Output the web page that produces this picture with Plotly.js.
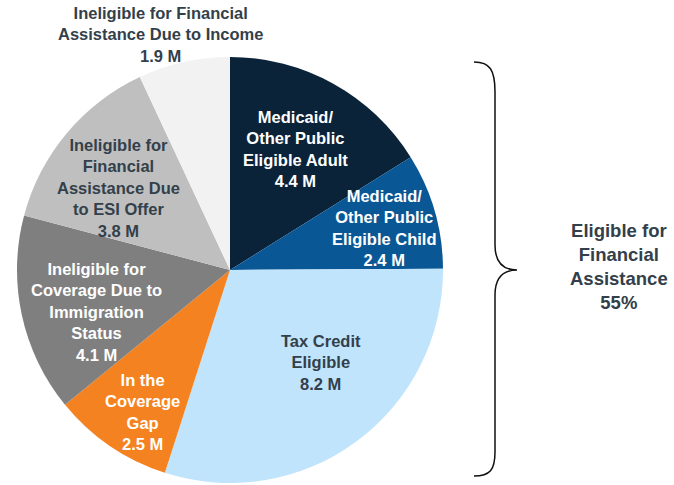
<!DOCTYPE html>
<html>
<head>
<meta charset="utf-8">
<script src="https://cdn.plot.ly/plotly-3.0.1.min.js"></script>
<style>
  body { margin: 0; background: #fff; }
  #chart { width: 674px; height: 485px; }
</style>
</head>
<body>
<div id="chart"></div>
<script>
// slices, clockwise from 12 o'clock
let groups = ["Medicaid/ Other Public Eligible Adult", "Medicaid/ Other Public Eligible Child",
              "Tax Credit Eligible", "In the Coverage Gap",
              "Ineligible for Coverage Due to Immigration Status",
              "Ineligible for Financial Assistance Due to ESI Offer",
              "Ineligible for Financial Assistance Due to Income"];

// people, millions
let millions = [4.4, 2.4, 8.2, 2.5, 4.1, 3.8, 1.9];

// label text as printed on the slices
let labels = ["Medicaid/<br>Other Public<br>Eligible Adult",
              "Medicaid/<br>Other Public<br>Eligible Child",
              "Tax Credit<br>Eligible",
              "In the<br>Coverage<br>Gap",
              "Ineligible for<br>Coverage Due to<br>Immigration<br>Status",
              "Ineligible for<br>Financial<br>Assistance Due<br>to ESI Offer",
              "Ineligible for Financial<br>Assistance Due to Income"];

let sliceColors = ["#0b2339", "#0a5796", "#bfe4fc", "#f58220", "#7f7f7f", "#bfbfbf", "#f2f2f2"];
let textColors = ["#ffffff", "#ffffff", "#333f4a", "#ffffff", "#ffffff", "#333f4a", "#333f4a"];

// where each label sits (page pixels)
let labelX = [295, 384, 321, 142, 96, 118, 160];
let labelY = [149, 228, 362, 412, 312, 188, 35];

const W = 674, H = 485;
function px(x) { return x / W; }
function py(y) { return 1 - y / H; }

// pie centre and radius in pixels
let cx = 230, cy = 270, r = 213;

let trace = {
    type: "pie",
    values: millions,
    labels: groups,
    sort: false,
    direction: "clockwise",
    rotation: 0,
    marker: { colors: sliceColors, line: { width: 0 } },
    textinfo: "none",
    hoverinfo: "label+value",
    showlegend: false,
    domain: { x: [px(cx - r), px(cx + r)], y: [py(cy + r), py(cy - r)] }
};

let annotations = labels.map((t, i) => ({
    xref: "paper", yref: "paper",
    x: px(labelX[i]), y: py(labelY[i]),
    xanchor: "center", yanchor: "middle",
    text: "<b>" + t + "<br>" + millions[i].toFixed(1) + " M</b>",
    showarrow: false,
    font: { family: "Arial, Liberation Sans, sans-serif", size: 16.5, color: textColors[i] }
}));

annotations.push({
    xref: "paper", yref: "paper",
    x: px(619), y: py(266),
    xanchor: "center", yanchor: "middle",
    text: "<b>Eligible for<br>Financial<br>Assistance<br>55%</b>",
    showarrow: false,
    font: { family: "Arial, Liberation Sans, sans-serif", size: 18.5, color: "#333f4a" }
});

// curly brace round the eligible slices
let brace = "M" + px(474) + "," + py(62) +
    " C" + px(490) + "," + py(62) + " " + px(495) + "," + py(70) + " " + px(495) + "," + py(92) +
    " L" + px(495) + "," + py(245) +
    " C" + px(495) + "," + py(262) + " " + px(502) + "," + py(270) + " " + px(517) + "," + py(270) +
    " C" + px(502) + "," + py(270) + " " + px(495) + "," + py(278) + " " + px(495) + "," + py(295) +
    " L" + px(495) + "," + py(452) +
    " C" + px(495) + "," + py(470) + " " + px(490) + "," + py(476) + " " + px(474) + "," + py(476);

let layout = {
    width: W, height: H,
    margin: { l: 0, r: 0, t: 0, b: 0 },
    paper_bgcolor: "#ffffff",
    annotations: annotations,
    shapes: [{ type: "path", xref: "paper", yref: "paper", path: brace,
               line: { color: "#111111", width: 1.5 } }]
};

Plotly.newPlot("chart", [trace], layout, { displayModeBar: false, staticPlot: true });
</script>
</body>
</html>
